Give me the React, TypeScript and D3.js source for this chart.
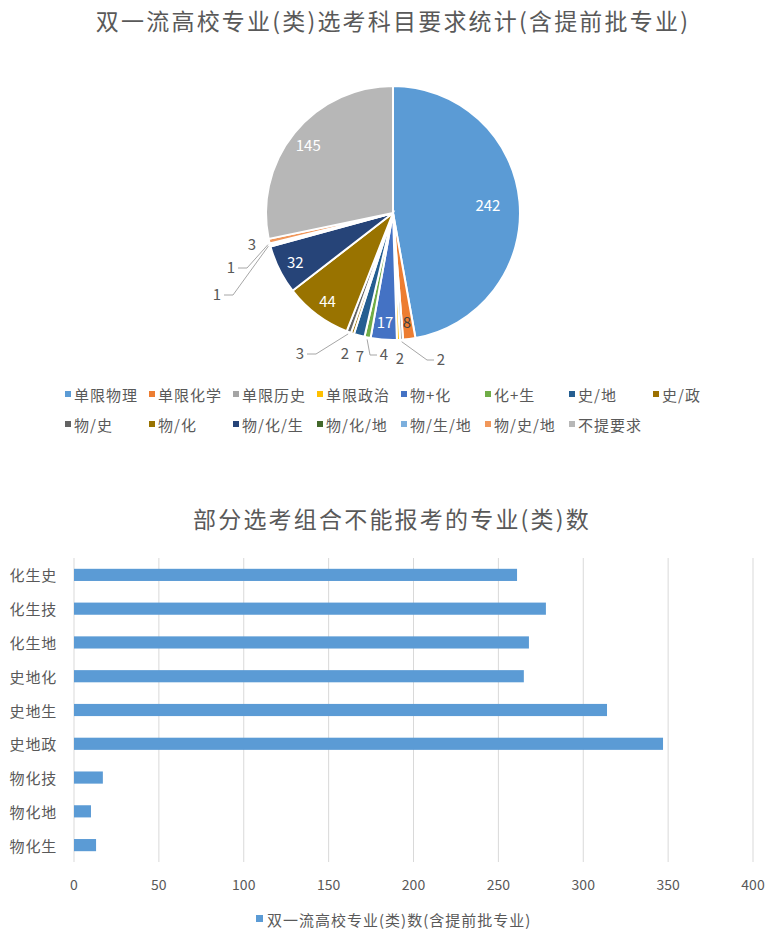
import React from 'react';
import * as d3 from 'd3';

// ---- pie data ----
const pieTitle = '双一流高校专业(类)选考科目要求统计(含提前批专业)';
const pieCategories = ['单限物理', '单限化学', '单限历史', '单限政治', '物+化', '化+生', '史/地', '史/政', '物/史', '物/化', '物/化/生', '物/化/地', '物/生/地', '物/史/地', '不提要求'];
const pieValues = [242, 8, 2, 2, 17, 4, 7, 2, 3, 44, 32, 1, 1, 3, 145];
const pieColors = ['#5B9BD5', '#ED7D31', '#A5A5A5', '#FFC000', '#4472C4', '#70AD47', '#255E91', '#9C7000', '#636363', '#997300', '#264478', '#43682B', '#7CAFDD', '#F1975A', '#B7B7B7'];

// ---- bar data ----
const barTitle = '部分选考组合不能报考的专业(类)数';
const barCategories = ['化生史', '化生技', '化生地', '史地化', '史地生', '史地政', '物化技', '物化地', '物化生'];
const barValues = [261, 278, 268, 265, 314, 347, 17, 10, 13];
const barTicks = [0, 50, 100, 150, 200, 250, 300, 350, 400];
const barSeries = '双一流高校专业(类)数(含提前批专业)';

// where Excel pushed the small slice labels (offset from pie centre) and whether a leader is drawn
const outsideLabels: Record<string, { at: [number, number]; leader: boolean }> = {
  '单限历史': { at: [48, 145], leader: true },
  '单限政治': { at: [7, 144], leader: false },
  '化+生': { at: [-9, 140], leader: true },
  '史/地': { at: [-33, 142], leader: false },
  '史/政': { at: [-48, 139], leader: false },
  '物/史': { at: [-93, 139], leader: true },
  '物/化/地': { at: [-176, 80], leader: true },
  '物/生/地': { at: [-162, 53], leader: true },
  '物/史/地': { at: [-141, 30], leader: false },
};

const W = 780;
const H = 936;
const FONT = '"Noto Sans CJK SC", "Noto Sans", sans-serif';
const GREY = '#595959';

const PieChart = () => {
  const cx = 393;
  const cy = 213;
  const R = 127;
  const arcs = d3.pie<number>().sort(null).value(d => d)(pieValues);
  const arc = d3.arc<d3.PieArcDatum<number>>().innerRadius(0).outerRadius(R);

  const legendX = d3.scaleLinear().domain([0, 1]).range([68, 152]);
  const perRow = 8;

  return (
    <g>
      <text x={cx} y={30} textAnchor="middle" fontSize={23} letterSpacing={2.2} fill={GREY}>{pieTitle}</text>
      <g transform={`translate(${cx},${cy})`}>
        {arcs.map((a, i) => (
          <path key={i} d={arc(a) || ''} fill={pieColors[i]} stroke="#fff" strokeWidth={2} />
        ))}
        {arcs.map((a, i) => {
          const cat = pieCategories[i];
          const mid = (a.startAngle + a.endAngle) / 2;
          const o = outsideLabels[cat];
          if (o) {
            const [lx, ly] = o.at;
            const sx = Math.sin(mid) * (R + 2);
            const sy = -Math.cos(mid) * (R + 2);
            const left = lx < sx;
            const ex = left ? lx + 16 : lx - 14;
            const fx = left ? lx + 7 : lx - 7;
            return (
              <g key={i}>
                {o.leader && (
                  <polyline points={`${sx},${sy} ${ex},${ly + 2} ${fx},${ly + 2}`} fill="none" stroke="#A6A6A6" strokeWidth={1} />
                )}
                <text x={lx} y={ly} textAnchor="middle" dominantBaseline="central" fontSize={15} fill={GREY}>{pieValues[i]}</text>
              </g>
            );
          }
          const r = pieValues[i] > 200 ? R * 0.75 : R * 0.86;
          return (
            <text key={i} x={Math.sin(mid) * r} y={-Math.cos(mid) * r} textAnchor="middle" dominantBaseline="central"
              fontSize={15} fill={pieValues[i] < 10 ? '#404040' : '#fff'}>{pieValues[i]}</text>
          );
        })}
      </g>
      {pieCategories.map((c, i) => {
        const col = i % perRow;
        const row = Math.floor(i / perRow);
        const x = legendX(col);
        const y = 394 + row * 30;
        return (
          <g key={c}>
            <rect x={x - 3} y={y - 3} width={6} height={6} fill={pieColors[i]} />
            <text x={x + 6} y={y} dominantBaseline="central" fontSize={15} letterSpacing={1} fill={GREY}>{c}</text>
          </g>
        );
      })}
    </g>
  );
};

const BarChart = () => {
  const x = d3.scaleLinear().domain([0, 400]).range([74, 753]);
  const y = d3.scaleBand().domain(barCategories).range([558, 862]).paddingInner(0.64).paddingOuter(0.32);

  return (
    <g>
      <text x={392} y={528} textAnchor="middle" fontSize={23} letterSpacing={2.2} fill={GREY}>{barTitle}</text>
      {barTicks.map(t => (
        <g key={t}>
          <line x1={x(t)} x2={x(t)} y1={558} y2={862} stroke="#D9D9D9" strokeWidth={1} />
          <text x={x(t)} y={884} textAnchor="middle" dominantBaseline="central" fontSize={14} fill={GREY}>{t}</text>
        </g>
      ))}
      {barCategories.map((c, i) => (
        <g key={c}>
          <rect x={x(0)} y={y(c)} width={x(barValues[i]) - x(0)} height={y.bandwidth()} fill="#5B9BD5" />
          <text x={57} y={(y(c) || 0) + y.bandwidth() / 2} textAnchor="end" dominantBaseline="central" fontSize={15} letterSpacing={0.8} fill={GREY}>{c}</text>
        </g>
      ))}
      <rect x={256} y={915} width={7} height={7} fill="#5B9BD5" />
      <text x={267} y={919} dominantBaseline="central" fontSize={15} letterSpacing={1} fill={GREY}>{barSeries}</text>
    </g>
  );
};

export default function App() {
  return (
    <svg width={W} height={H} style={{ position: 'absolute', left: 0, top: 0, background: '#fff' }} fontFamily={FONT}>
      <rect width={W} height={H} fill="#fff" />
      <PieChart />
      <BarChart />
    </svg>
  );
}
